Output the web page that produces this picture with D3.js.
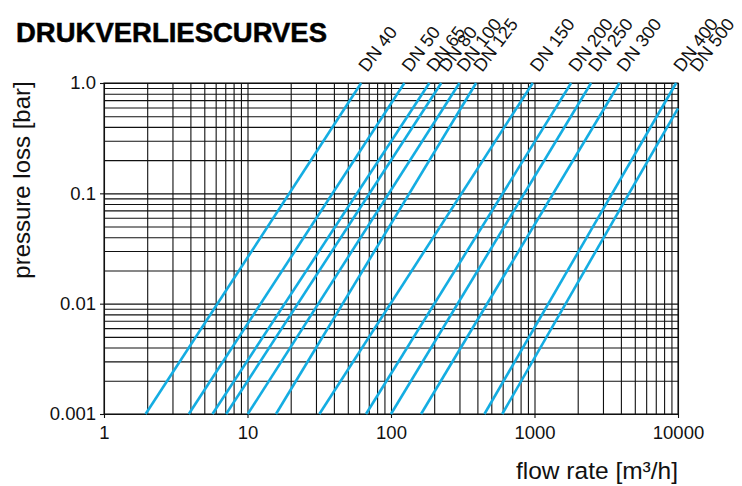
<!DOCTYPE html>
<html>
<head>
<meta charset="utf-8">
<script src="https://cdn.jsdelivr.net/npm/d3@7"></script>
<style>
    body { margin: 0; background: #fff; }
    svg { display: block; font-family: "Liberation Sans", Arial, sans-serif; }
</style>
</head>
<body>
<svg id="chart" width="742" height="486"></svg>
<script>

// Pressure loss curves, one straight line (log-log) per valve size
let dnLabels = ["DN 40", "DN 50", "DN 65", "DN 80", "DN 100", "DN 125",
                "DN 150", "DN 200", "DN 250", "DN 300", "DN 400", "DN 500"];
// flow rate [m3/h] where each curve starts at 0.001 bar
let flowAtMin = [1.95, 3.9, 5.7, 7.1, 10.05, 15.8, 31.7, 67, 100, 162, 448, 596];
// flow rate [m3/h] and pressure loss [bar] where each curve ends
let flowAtEnd = [62, 124, 185, 224, 300, 392, 973, 1800, 2480, 3910, 9710, 10000];
let lossAtEnd = [1, 1, 1, 1, 1, 1, 1, 1, 1, 1, 1, 0.59];

let xTicks = [1, 10, 100, 1000, 10000];
let yTicks = [0.001, 0.01, 0.1, 1];
let yTickLabels = ["0.001", "0.01", "0.1", "1.0"];

let margin = {top: 83, right: 64, bottom: 72, left: 104};
let width = 742 - margin.left - margin.right;
let height = 486 - margin.top - margin.bottom;
let blue = "#14ade2";

let svg = d3.select("#chart");

svg.append("text")
    .attr("x", 16)
    .attr("y", 42)
    .attr("font-size", 27)
    .attr("font-weight", "bold")
    .attr("textLength", 311)
    .attr("lengthAdjust", "spacingAndGlyphs")
    .attr("stroke", "#000")
    .attr("stroke-width", 0.5)
    .text("DRUKVERLIESCURVES");

let g = svg.append("g")
    .attr("transform", "translate(" + margin.left + "," + margin.top + ")");

let x = d3.scaleLog().domain([1, 10000]).range([0, width]);
let y = d3.scaleLog().domain([0.001, 1]).range([height, 0]);

// minor grid values: 1..9 for every decade
let xGrid = [];
for (let p = 0; p < 4; p++) for (let m = 1; m < 10; m++) xGrid.push(m * Math.pow(10, p));
xGrid.push(10000);
let yGrid = [];
for (let p = -3; p < 0; p++) for (let m = 1; m < 10; m++) yGrid.push(+(m * Math.pow(10, p)).toPrecision(3));
yGrid.push(1);

g.append("g")
    .attr("class", "grid")
    .attr("transform", "translate(0," + height + ")")
    .call(d3.axisBottom(x).tickValues(xGrid).tickSize(-height).tickFormat(""));

g.append("g")
    .attr("class", "grid")
    .call(d3.axisLeft(y).tickValues(yGrid).tickSize(-width).tickFormat(""));

g.selectAll(".grid .domain").remove();
g.selectAll(".grid line").attr("stroke", "#111").attr("stroke-width", 1.1);

// axis ticks + labels
let xAxis = g.append("g")
    .attr("transform", "translate(0," + height + ")")
    .call(d3.axisBottom(x).tickValues(xTicks).tickSize(4).tickPadding(4).tickFormat(d3.format("d")));

let yAxis = g.append("g")
    .call(d3.axisLeft(y).tickValues(yTicks).tickSize(4).tickPadding(4)
        .tickFormat((d, i) => yTickLabels[i]));

[xAxis, yAxis].forEach(function(a){
    a.select(".domain").remove();
    a.selectAll("line").attr("stroke", "#111").attr("stroke-width", 1.1);
    a.selectAll("text").attr("font-size", 18.5).attr("fill", "#111")
        .attr("font-family", "Liberation Sans, Arial, sans-serif");
});
xAxis.selectAll("text").attr("dy", "0.9em");
yAxis.selectAll("text").attr("x", -8);

// border
g.append("rect")
    .attr("width", width)
    .attr("height", height)
    .attr("fill", "none")
    .attr("stroke", "#111")
    .attr("stroke-width", 1.1);

// curves
let curves = dnLabels.map(function(label, i){
    let k = (Math.log10(lossAtEnd[i]) - Math.log10(0.001)) /
            (Math.log10(flowAtEnd[i]) - Math.log10(flowAtMin[i]));
    // where the line would reach 1 bar (used to place the label)
    let flowAtTop = flowAtEnd[i] * Math.pow(10, -Math.log10(lossAtEnd[i]) / k);
    return {label: label,
            points: [[flowAtMin[i], 0.001], [flowAtEnd[i], lossAtEnd[i]]],
            flowAtTop: flowAtTop};
});

let line = d3.line().x(d => x(d[0])).y(d => y(d[1]));

g.selectAll(".curve")
    .data(curves)
    .enter().append("path")
    .attr("class", "curve")
    .attr("d", d => line(d.points))
    .attr("fill", "none")
    .attr("stroke", blue)
    .attr("stroke-width", 2.6);

g.selectAll(".dn-label")
    .data(curves)
    .enter().append("text")
    .attr("class", "dn-label")
    .attr("transform", d => "translate(" + (x(d.flowAtTop) + 6) + "," + (-10) + ") rotate(-53)")
    .attr("font-size", 18)
    .attr("fill", "#111")
    .text(d => d.label);

// axis titles
svg.append("text")
    .attr("transform", "translate(30," + 180 + ") rotate(-90)")
    .attr("text-anchor", "middle")
    .attr("font-size", 24)
    .attr("fill", "#111")
    .text("pressure loss [bar]");

svg.append("text")
    .attr("x", margin.left + width)
    .attr("y", 479)
    .attr("text-anchor", "end")
    .attr("font-size", 24.5)
    .attr("fill", "#111")
    .text("flow rate [m³/h]");

</script>
</body>
</html>
